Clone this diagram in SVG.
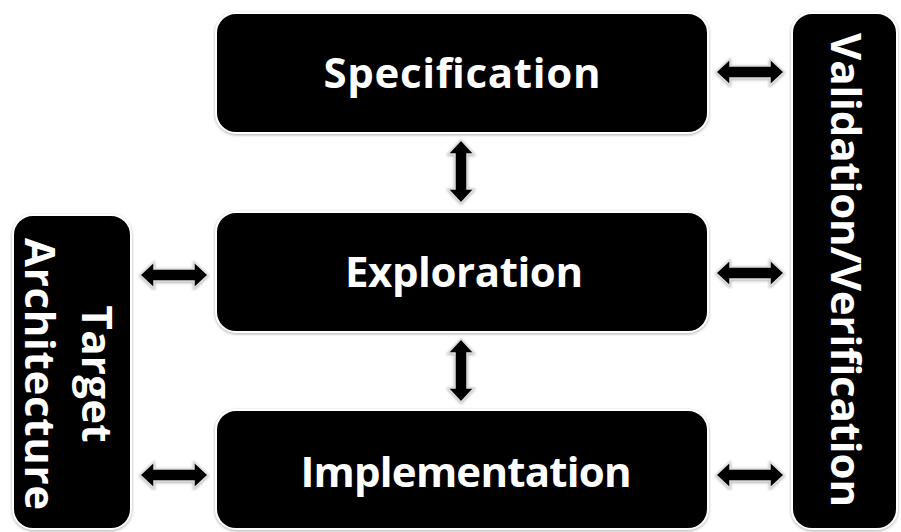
<svg xmlns="http://www.w3.org/2000/svg" width="901" height="532" viewBox="0 0 901 532">
<defs>
<style>
.box{fill:#000;stroke:#fff;stroke-width:2;filter:url(#sh)}
.lbl{fill:#fff;font-family:"Open Sans","DejaVu Sans",sans-serif;font-weight:bold;font-size:42px;text-anchor:middle}
.arr{fill:#000;stroke:#ddd;stroke-width:1.5;filter:url(#sh)}
</style>
<filter id="sh" x="-10%" y="-10%" width="120%" height="120%">
<feDropShadow dx="0" dy="1" stdDeviation="1.5" flood-color="#888" flood-opacity="0.7"/>
</filter>
</defs>
<rect width="901" height="532" fill="#fff"/>
<g id="spec"><rect class="box" x="216" y="13" width="492" height="120" rx="20"/><text class="lbl" x="462" y="88" textLength="277">Specification</text></g>
<g id="expl"><rect class="box" x="216" y="212" width="492" height="120" rx="20"/><text class="lbl" x="464" y="287" textLength="238">Exploration</text></g>
<g id="impl"><rect class="box" x="216" y="410" width="492" height="119" rx="20"/><text class="lbl" x="466" y="487" textLength="331">Implementation</text></g>
<g id="valid"><rect class="box" x="792" y="13" width="105" height="516" rx="20"/><text class="lbl" transform="translate(844,270) rotate(90)" x="0" y="13" textLength="474">Validation/Verification</text></g>
<g id="target"><rect class="box" x="13" y="215" width="118" height="314" rx="20"/><text class="lbl" transform="translate(72,374) rotate(90)"><tspan x="0" y="-10" textLength="137">Target</tspan><tspan x="0" y="47" textLength="272">Architecture</tspan></text></g>
<g id="connectors">
<polygon class="arr" points="716,72 730,59 730,66 770,66 770,59 784,72 770,85 770,78 730,78 730,85"/>
<polygon class="arr" points="716,273 730,260 730,267 770,267 770,260 784,273 770,286 770,279 730,279 730,286"/>
<polygon class="arr" points="716,475 730,462 730,469 770,469 770,462 784,475 770,488 770,481 730,481 730,488"/>
<polygon class="arr" points="140,275 154,262 154,269 194,269 194,262 208,275 194,288 194,281 154,281 154,288"/>
<polygon class="arr" points="140,475 154,462 154,469 194,469 194,462 208,475 194,488 194,481 154,481 154,488"/>
<polygon class="arr" points="461,140 474,154 467,154 467,189 474,189 461,203 448,189 455,189 455,154 448,154"/>
<polygon class="arr" points="461,339 474,353 467,353 467,388 474,388 461,402 448,388 455,388 455,353 448,353"/>
</g>
</svg>
